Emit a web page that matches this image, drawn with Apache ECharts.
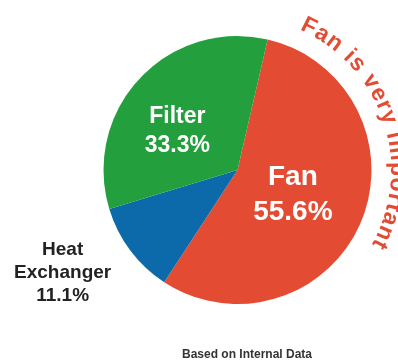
<!DOCTYPE html>
<html>
<head>
<meta charset="utf-8">
<script src="https://cdn.jsdelivr.net/npm/echarts@6/dist/echarts.min.js"></script>
<style>
html,body{margin:0;padding:0;background:#fff;}
#pie_fan{width:398px;height:360px;}
</style>
</head>
<body>
<div id="pie_fan"></div>
<script>
// 数据
var names = ['Fan', 'Heat Exchanger', 'Filter'];
var values = [55.6, 11.1, 33.3];
var colors = ['#e34b33', '#0d6aaa', '#23a03d'];
var arcText = 'Fan is very important';
var note = 'Based on Internal Data';

var FONT = '"Liberation Sans", Arial, Helvetica, sans-serif';
var cx = 237.5, cy = 170, rad = 134;
// 标签微调
var labelShift = [[-9, -3], [9, 1], [-9, 9]];

var pieData = [];
for (var i = 0; i < names.length; i++) {
    pieData.push({ name: names[i], value: values[i], itemStyle: { color: colors[i] } });
}
// Heat Exchanger 标签放外面
pieData[1].label = {
    position: 'outside',
    overflow: 'none',
    formatter: function (p) {
        return '{t|Heat}\n{t|Exchanger}\n{t|' + p.value.toFixed(1) + '%}';
    },
    rich: {
        t: { align: 'center', color: '#222', fontSize: 19, fontWeight: 'bold', fontFamily: FONT, lineHeight: 23 }
    }
};
pieData[1].labelLine = { show: false, length: 35, length2: 0 };
pieData[0].label = {
    formatter: function (p) { return '{n|' + p.name + '}\n{n|' + p.value.toFixed(1) + '%}'; },
    rich: { n: { color: '#fff', fontSize: 28, fontWeight: 'bold', fontFamily: FONT, lineHeight: 35, align: 'center' } }
};
pieData[2].label = {
    formatter: function (p) { return '{n|' + p.name + '}\n{n|' + p.value.toFixed(1) + '%}'; },
    rich: { n: { color: '#fff', fontSize: 23, fontWeight: 'bold', fontFamily: FONT, lineHeight: 29, align: 'center' } }
};

// 弧形文字
function arcChars(text, r, a0, a1, font, color) {
    var ctx = document.createElement('canvas').getContext('2d');
    ctx.font = font;
    var ws = [], tot = 0;
    for (var i = 0; i < text.length; i++) { ws.push(ctx.measureText(text[i]).width); tot += ws[i]; }
    var span = (a1 - a0) * Math.PI / 180 * r;
    var gap = (span - tot) / (text.length - 1);
    var out = [], s = 0;
    for (var j = 0; j < text.length; j++) {
        var mid = s + ws[j] / 2;
        var ang = (a0 * Math.PI / 180) + mid / r;
        out.push({
            type: 'text',
            x: cx + r * Math.sin(ang),
            y: cy - r * Math.cos(ang),
            rotation: -ang,
            style: { text: text[j], font: font, fill: color, align: 'center', verticalAlign: 'middle' }
        });
        s += ws[j] + gap;
    }
    return out;
}

var pie_fan = {
    animation: false,
    title: {
        text: note,
        left: 242,
        top: 344,
        textAlign: 'center',
        textStyle: { fontSize: 12, fontWeight: 'bold', color: '#333', fontFamily: FONT }
    },
    graphic: arcChars(arcText, 160, 24, 119, 'bold 23px ' + FONT, colors[0]),
    series: [
        {
            name: 'fan',
            type: 'pie',
            center: [cx, cy],
            radius: [0, rad],
            startAngle: 77,
            clockwise: true,
            label: { show: true, position: 'inside' },
            labelLine: { show: false },
            labelLayout: function (p) {
                var s = labelShift[p.dataIndex];
                return { dx: s[0], dy: s[1] };
            },
            emphasis: { disabled: true },
            data: pieData
        }
    ]
};
var chart_pie_fan = echarts.init(document.getElementById('pie_fan'));
chart_pie_fan.setOption(pie_fan);
</script>
</body>
</html>
